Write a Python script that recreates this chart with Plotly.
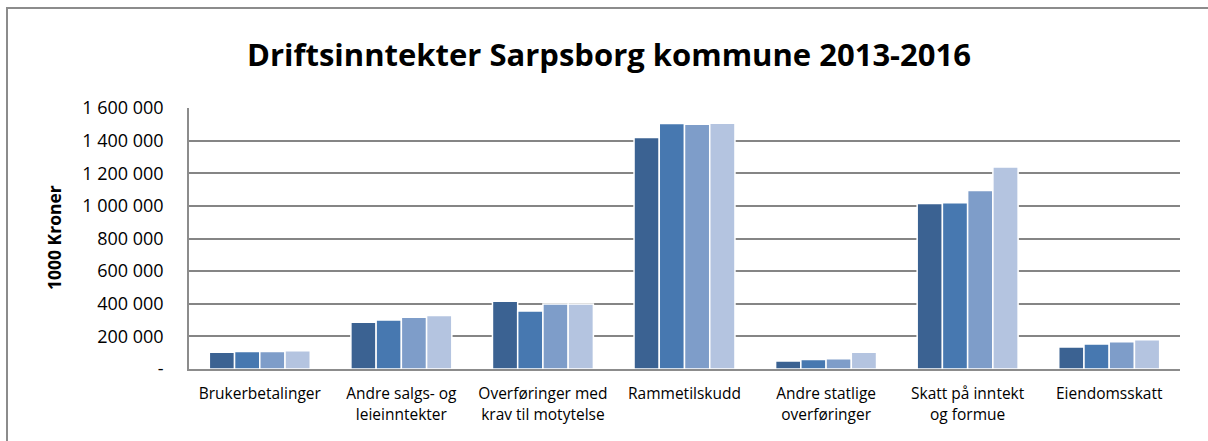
import plotly.graph_objects as go

categories = [
    "Brukerbetalinger",
    "Andre salgs- og<br>leieinntekter",
    "Overføringer med<br>krav til motytelse",
    "Rammetilskudd",
    "Andre statlige<br>overføringer",
    "Skatt på inntekt<br>og formue",
    "Eiendomsskatt",
]
years = ["2013", "2014", "2015", "2016"]
v2013 = [102000, 287000, 416000, 1419000, 49000, 1015000, 135000]
v2014 = [107000, 300000, 355000, 1505000, 59000, 1019000, 153000]
v2015 = [107000, 318000, 398000, 1500000, 63000, 1095000, 167000]
v2016 = [112000, 328000, 398000, 1506000, 102000, 1239000, 179000]
series = [v2013, v2014, v2015, v2016]
colors = ["#3B6292", "#4778B0", "#7E9DC9", "#B4C4E0"]

tick_vals = [0, 200000, 400000, 600000, 800000, 1000000, 1200000, 1400000, 1600000]
tick_text = ["-", "200 000", "400 000", "600 000", "800 000", "1 000 000",
             "1 200 000", "1 400 000", "1 600 000"]

fig = go.Figure()
for name, vals, col in zip(years, series, colors):
    fig.add_trace(go.Bar(
        x=categories, y=vals, name=name,
        marker=dict(color=col, line=dict(color="white", width=1.5)),
    ))

W, H = 1208, 441
L, R, T, B = 189, 28, 108, 72
pw = W - L - R
ph = H - T - B

fig.update_layout(
    width=W, height=H,
    margin=dict(l=L, r=R, t=T, b=B),
    paper_bgcolor="white", plot_bgcolor="white",
    barmode="group", bargap=0.287, bargroupgap=0,
    showlegend=False,
    font=dict(family="Open Sans", color="#000000"),
    title=dict(
        text="<b>Driftsinntekter Sarpsborg kommune 2013-2016</b>",
        x=609 / W, xref="container", xanchor="center",
        y=1 - 55 / H, yanchor="middle",
        font=dict(family="Open Sans", size=31, color="#000000"),
    ),
    xaxis=dict(
        showgrid=False, showline=True, linecolor="#8c8c8c", linewidth=1.5,
        ticks="", tickfont=dict(size=15.5, color="#000000"),
        ticklabelstandoff=10,
    ),
    yaxis=dict(
        range=[0, 1600000], tickvals=tick_vals, ticktext=tick_text,
        showgrid=True, gridcolor="#858585", gridwidth=1.5,
        showline=True, linecolor="#8c8c8c", linewidth=1.5,
        ticks="", tickfont=dict(size=18, color="#000000"),
        ticklabelstandoff=20,
        zeroline=False,
    ),
)

fig.add_annotation(
    text="<b>1000 Kroner</b>", textangle=-90,
    xref="paper", yref="paper",
    x=(54 - L) / pw, y=(H - B - 238) / ph,
    xanchor="center", yanchor="middle", showarrow=False,
    font=dict(family="Open Sans", size=17.5, color="#000000"),
)

# outer chart frame (left/top edges visible, right/bottom beyond the image)
fig.add_shape(
    type="rect", xref="paper", yref="paper",
    x0=(7 - L) / pw, x1=(W + 20 - L) / pw,
    y0=(H - B - (H + 20)) / ph, y1=(H - B - 8) / ph,
    line=dict(color="#8c8c8c", width=2), fillcolor="rgba(0,0,0,0)",
    layer="below",
)

fig.write_html(
    "out.html",
    config={"displayModeBar": False},
    post_script="document.body.style.margin='0';document.body.style.overflow='hidden';",
)
